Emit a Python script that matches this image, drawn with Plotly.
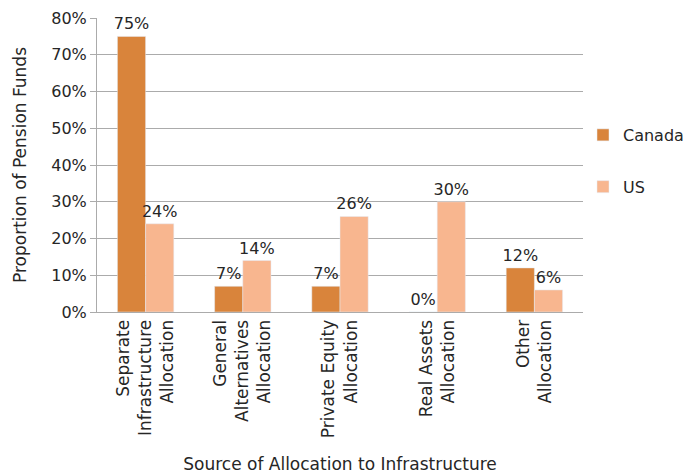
import plotly.graph_objects as go

categories = [
    "Separate<br>Infrastructure<br>Allocation",
    "General<br>Alternatives<br>Allocation",
    "Private Equity<br>Allocation",
    "Real Assets<br>Allocation",
    "Other<br>Allocation",
]
canada = [0.75, 0.07, 0.07, 0.00, 0.12]
us = [0.24, 0.14, 0.26, 0.30, 0.06]
y_ticks = [0, 0.1, 0.2, 0.3, 0.4, 0.5, 0.6, 0.7, 0.8]

FONT = "DejaVu Sans"
TXT = "#262626"
GRID = "#ABABAB"

fig = go.Figure()
fig.add_trace(go.Bar(
    x=categories, y=canada, name="Canada", legendgroup="ca",
    marker=dict(color="#D9843B"),
    text=canada, texttemplate="%{y:.0%}", textposition="outside",
    textfont=dict(family=FONT, size=16, color=TXT), cliponaxis=False,
))
fig.add_trace(go.Bar(
    x=categories, y=us, name="US", legendgroup="us",
    marker=dict(color="#F8B68F"),
    text=us, texttemplate="%{y:.0%}", textposition="outside",
    textfont=dict(family=FONT, size=16, color=TXT), cliponaxis=False,
))

fig.update_layout(
    width=698, height=474,
    margin=dict(l=97, r=115, t=18, b=162, autoexpand=False),
    paper_bgcolor="white", plot_bgcolor="white",
    font=dict(family=FONT, size=16, color=TXT),
    barmode="group", bargap=0.42, bargroupgap=0,
    uniformtext=dict(minsize=16, mode="show"),
    showlegend=True,
    legend=dict(x=1.0, y=0.66, xanchor="left", yanchor="top",
                font=dict(family=FONT, size=16, color=TXT),
                tracegroupgap=28, bgcolor="rgba(0,0,0,0)"),
    xaxis=dict(
        tickangle=-90, showline=True, linecolor=GRID, linewidth=1,
        ticks="", tickfont=dict(family=FONT, size=17, color=TXT),
        title=dict(text="Source of Allocation to Infrastructure",
                   font=dict(family=FONT, size=17, color=TXT), standoff=30),
    ),
    yaxis=dict(
        range=[0, 0.8], tickvals=y_ticks, tickformat=".0%",
        showgrid=True, gridcolor=GRID, gridwidth=1,
        showline=True, linecolor=GRID, linewidth=1,
        ticks="outside", ticklen=6, tickcolor=GRID,
        zeroline=False,
        tickfont=dict(family=FONT, size=16, color=TXT),
        title=dict(text="Proportion of Pension Funds",
                   font=dict(family=FONT, size=17, color=TXT), standoff=20),
    ),
)

fig.write_html("out.html")
